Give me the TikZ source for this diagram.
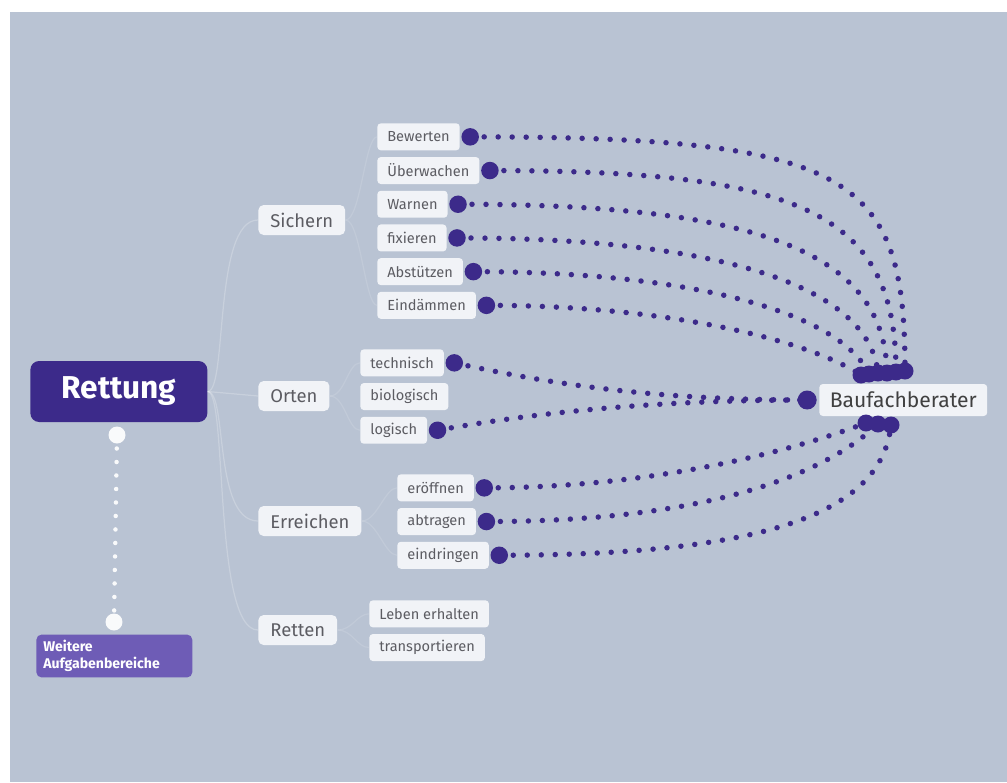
\documentclass[tikz,border=0pt]{standalone}
\usepackage{fontspec}
\setmainfont{Fira Sans}
\usetikzlibrary{positioning}

\definecolor{paper}{RGB}{185,195,211}
\definecolor{mindpurple}{RGB}{60,42,138}
\definecolor{morepurple}{RGB}{110,92,182}
\definecolor{boxwhite}{RGB}{241,243,247}
\definecolor{labelgrey}{RGB}{92,92,98}

\tikzset{
  root/.style={fill=mindpurple, text=white, rounded corners=5pt, anchor=west,
    minimum width=3.54cm, minimum height=1.22cm, font=\fontsize{18}{20}\selectfont\bfseries},
  more/.style={fill=morepurple, text=white, rounded corners=3pt, anchor=west, align=left,
    text width=2.84cm, inner xsep=0.14cm, minimum height=0.8cm,
    font=\fontsize{8}{9.5}\selectfont\bfseries},
  branch/.style={fill=boxwhite, text=labelgrey, rounded corners=3pt, anchor=west,
    inner xsep=0.24cm, inner ysep=0pt, minimum height=0.6cm, font=\fontsize{10.5}{12}\selectfont},
  leaf/.style={fill=boxwhite, text=labelgrey, rounded corners=2pt, anchor=north west,
    inner xsep=0.2cm, inner ysep=0pt, minimum height=0.54cm, font=\fontsize{8.3}{10}\selectfont},
  target/.style={fill=boxwhite, text=black!75, rounded corners=2pt, anchor=west,
    inner xsep=0.21cm, inner ysep=0pt, minimum height=0.64cm, font=\fontsize{12}{14}\selectfont},
  stack/.style={below=0.12cm of #1.south west, anchor=north west},
  knob/.style={circle, fill=mindpurple, inner sep=0pt, minimum size=0.35cm},
  endknob/.style={circle, fill=mindpurple, inner sep=0pt, minimum size=0.34cm},
  whiteknob/.style={circle, fill=white!92!paper, inner sep=0pt, minimum size=0.34cm},
  link/.style={draw=mindpurple, line width=0.11cm, line cap=round, dash pattern=on 0pt off 0.28cm},
  whitedots/.style={draw=white!92!paper, line width=0.09cm, line cap=round, dash pattern=on 0pt off 0.27cm},
  ghost/.style={draw=white, opacity=0.22, line width=0.7pt},
}

\begin{document}
\begin{tikzpicture}[x=0.02cm, y=-0.02cm, node distance=0.12cm]
  % Background
  \useasboundingbox (0,0) rectangle (1007,782);
  \fill[white] (0,0) rectangle (1007,782);
  \fill[paper] (10,12) rectangle (1007,782);

  % Nodes
  \node[root] (rett) at (30,391.5) {Rettung};
  \node[whiteknob] (rettK) at (117,435) {};
  \node[whiteknob] (moreK) at (114,622) {};
  \node[more] (more) at (36,656) {Weitere\\Aufgabenbereiche};

  \node[branch] (sich) at (258,220) {Sichern};
  \node[branch] (ort) at (258,396) {Orten};
  \node[branch] (erre) at (258,521) {Erreichen};
  \node[branch] (retn) at (258,630) {Retten};

  \node[leaf] (bew) at (377,123) {Bewerten};
  \node[leaf, stack=bew] (ueb) {Überwachen};
  \node[leaf, stack=ueb] (warn) {Warnen};
  \node[leaf, stack=warn] (fix) {fixieren};
  \node[leaf, stack=fix] (abst) {Abstützen};
  \node[leaf, stack=abst] (eind) {Eindämmen};

  \node[leaf] (tech) at (360,349) {technisch};
  \node[leaf, stack=tech] (bio) {biologisch};
  \node[leaf, stack=bio] (logi) {logisch};

  \node[leaf] (eroe) at (397,474) {eröffnen};
  \node[leaf, stack=eroe] (abtr) {abtragen};
  \node[leaf, stack=abtr] (eindr) {eindringen};

  \node[leaf] (leb) at (369,600) {Leben erhalten};
  \node[leaf, stack=leb] (trans) {transportieren};

  \node[target] (bf) at (819,400) {Baufachberater};

  % Knobs
  \node[knob, right=0.02cm of bew] (bewK) {};
  \node[knob, right=0.02cm of ueb] (uebK) {};
  \node[knob, right=0.02cm of warn] (warnK) {};
  \node[knob, right=0.02cm of fix] (fixK) {};
  \node[knob, right=0.02cm of abst] (abstK) {};
  \node[knob, right=0.02cm of eind] (eindK) {};
  \node[knob, right=0.02cm of tech] (techK) {};
  \node[knob, right=0.02cm of logi] (logiK) {};
  \node[knob, right=0.02cm of eroe] (eroeK) {};
  \node[knob, right=0.02cm of abtr] (abtrK) {};
  \node[knob, right=0.02cm of eindr] (eindrK) {};
  \node[knob, minimum size=0.38cm, left=0.04cm of bf] (bfK) {};

  \node[endknob] (t1) at (905,371) {};
  \node[endknob] (t2) at (896,372) {};
  \node[endknob] (t3) at (887,373) {};
  \node[endknob] (t4) at (878,373) {};
  \node[endknob] (t5) at (869,374) {};
  \node[endknob] (t6) at (861,375) {};
  \node[endknob] (e1) at (866,423) {};
  \node[endknob] (e2) at (878,424) {};
  \node[endknob] (e3) at (891,425) {};

  % Faint branches
  \draw[ghost] (rett.east) .. controls +(20,0) and +(-45,0) .. (sich.west);
  \draw[ghost] (rett.east) -- (ort.west);
  \draw[ghost] (rett.east) .. controls +(20,0) and +(-45,0) .. (erre.west);
  \draw[ghost] (rett.east) .. controls +(20,0) and +(-45,0) .. (retn.west);
  \draw[ghost, opacity=0.12] (sich.east) .. controls +(15,0) and +(-12,0) .. (bew.west);
  \draw[ghost, opacity=0.12] (sich.east) .. controls +(15,0) and +(-12,0) .. (eind.west);
  \draw[ghost, opacity=0.12] (ort.east) .. controls +(15,0) and +(-12,0) .. (tech.west);
  \draw[ghost, opacity=0.12] (ort.east) .. controls +(15,0) and +(-12,0) .. (logi.west);
  \draw[ghost, opacity=0.12] (erre.east) .. controls +(15,0) and +(-12,0) .. (eroe.west);
  \draw[ghost, opacity=0.12] (erre.east) .. controls +(15,0) and +(-12,0) .. (eindr.west);
  \draw[ghost, opacity=0.12] (retn.east) .. controls +(15,0) and +(-12,0) .. (leb.west);
  \draw[ghost, opacity=0.12] (retn.east) .. controls +(15,0) and +(-12,0) .. (trans.west);

  % White dotted link
  \draw[whitedots] (rettK.center) -- (moreK.center);

  % Links to Baufachberater
  \draw[link] (bewK.center) .. controls +(385,0) and +(0,-195) .. (t1.center);
  \draw[link] (uebK.center) .. controls +(310,0) and +(0,-160) .. (t2.center);
  \draw[link] (warnK.center) .. controls +(297,0) and +(-2,-122) .. (t3.center);
  \draw[link] (fixK.center) .. controls +(269,0) and +(-9,-85) .. (t4.center);
  \draw[link] (abstK.center) .. controls +(223,0) and +(-28,-60) .. (t5.center);
  \draw[link] (eindK.center) .. controls +(190,0) and +(-48,-32) .. (t6.center);
  \draw[link] (techK.center) .. controls +(100,22) and +(-150,0) .. (bfK.center);
  \draw[link] (logiK.center) .. controls +(100,-18) and +(-150,0) .. (bfK.center);
  \draw[link] (eroeK.center) .. controls +(162,0) and +(-82,31) .. (e1.center);
  \draw[link] (abtrK.center) .. controls +(210,0) and +(-58,55) .. (e2.center);
  \draw[link] (eindrK.center) .. controls +(275,0) and +(-9,85) .. (e3.center);
\end{tikzpicture}
\end{document}
